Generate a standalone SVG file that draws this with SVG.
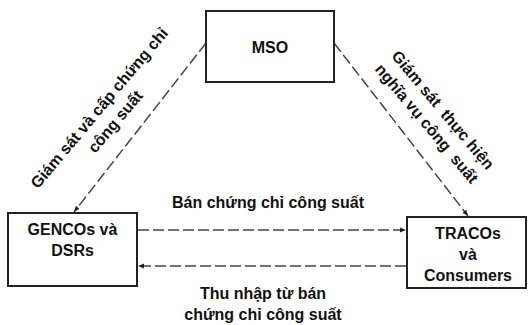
<svg xmlns="http://www.w3.org/2000/svg" width="528" height="325" viewBox="0 0 528 325">
<defs>
<marker id="ah" viewBox="0 0 10 10" refX="10" refY="5" markerWidth="4" markerHeight="4" orient="auto" markerUnits="strokeWidth">
<path d="M0,1 L10,5 L0,9 z" fill="#222"/>
</marker>
</defs>
<style>
.box{fill:#fff;stroke:#222;stroke-width:2}
.t{font-family:"Liberation Sans",Arial,sans-serif;font-weight:bold;font-size:16px;fill:#111;text-anchor:middle}
.c{fill:none;stroke:#444;stroke-width:1.5;stroke-dasharray:11 4;marker-end:url(#ah)}
</style>
<rect width="528" height="325" fill="#fff"/>
<g id="connectors">
<line class="c" x1="206" y1="43" x2="74" y2="212"/>
<line class="c" x1="334" y1="43" x2="468" y2="216"/>
<line class="c" x1="138" y1="230" x2="406" y2="230"/>
<line class="c" x1="406" y1="266" x2="138" y2="266"/>
</g>
<g id="mso">
<rect class="box" x="206" y="11" width="128" height="71"/>
<text class="t" x="270" y="53">MSO</text>
</g>
<g id="gencos">
<rect class="box" x="8" y="213" width="129" height="73"/>
<text class="t" x="72.5" y="235">GENCOs và</text>
<text class="t" x="72.5" y="256">DSRs</text>
</g>
<g id="tracos">
<rect class="box" x="407" y="217" width="119" height="71"/>
<text class="t" x="468" y="239">TRACOs</text>
<text class="t" x="468" y="260">và</text>
<text class="t" x="468" y="281">Consumers</text>
</g>
<g id="labels">
<g transform="translate(111,118) rotate(-50)">
<text class="t" x="0" y="-10">Giám sát và cấp chứng chỉ</text>
<text class="t" x="0" y="11">công suất</text>
</g>
<g transform="translate(431,120) rotate(50)">
<text class="t" x="0" y="-10" xml:space="preserve">Giám sát  thực hiện</text>
<text class="t" x="0" y="11" xml:space="preserve">nghĩa vụ công  suất</text>
</g>
<text class="t" x="268" y="208">Bán chứng chỉ công suất</text>
<text class="t" x="263" y="299">Thu nhập từ bán</text>
<text class="t" x="263" y="320">chứng chỉ công suất</text>
</g>
</svg>
